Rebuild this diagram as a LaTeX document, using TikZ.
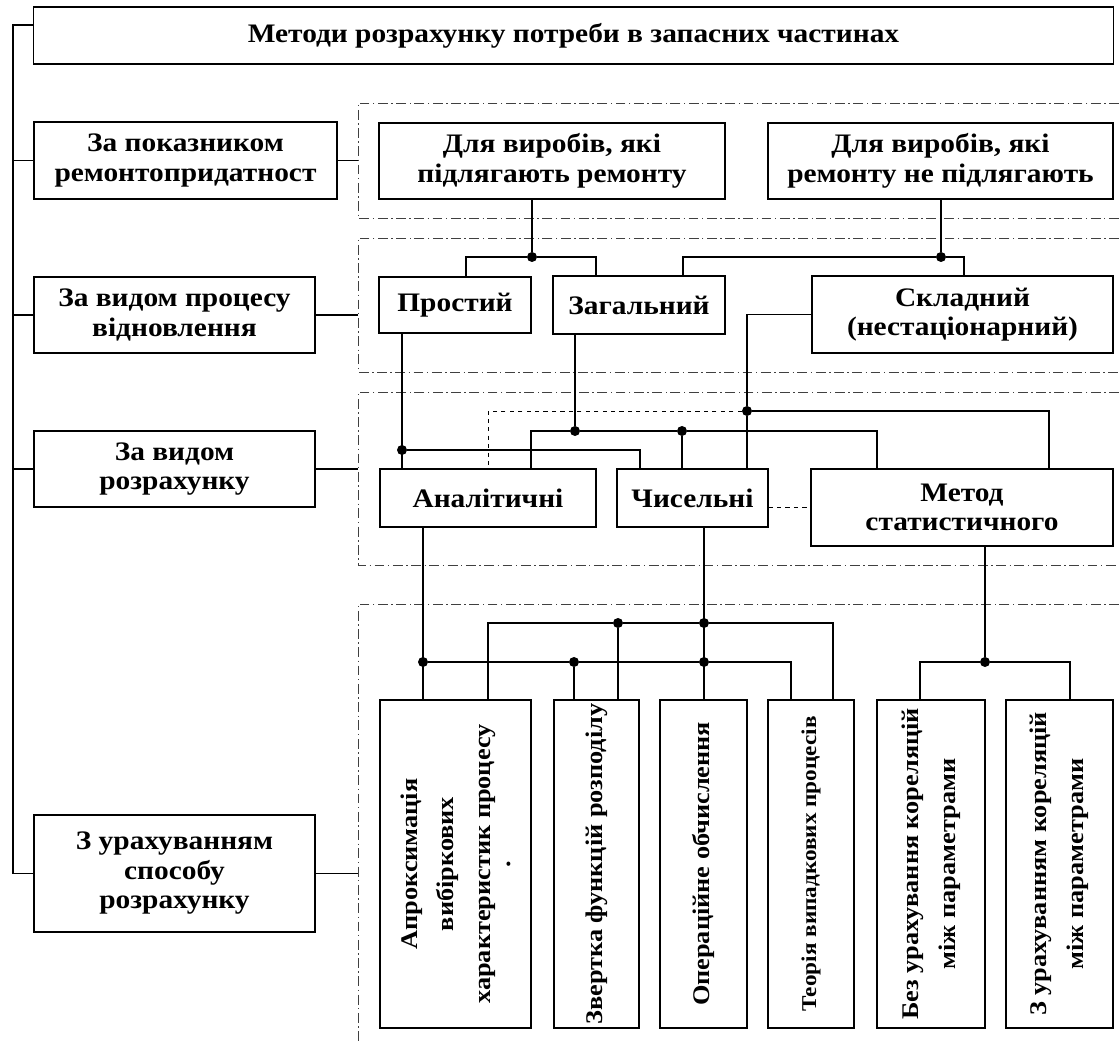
\documentclass[tikz,border=0pt]{standalone}
\usepackage{fontspec}
\setmainfont{Liberation Serif}[FakeStretch = 1.1]
\usetikzlibrary{shapes}
\tikzstyle{block} =
        [
                rectangle,
                draw,
                line width = 0.8pt,
                align = center,
                inner sep = 0pt,
                font = \bfseries\fontsize{19}{21}\selectfont
        ]
\tikzstyle{vblock} =
        [
                block,
                rotate = 90,
                minimum width = 8.2cm,
                font = \bfseries\fontsize{17}{26}\selectfont
        ]
\tikzstyle{line} =
        [
                draw,
                line width = 0.8pt
        ]
\tikzstyle{dashline} =
        [
                draw,
                dashed,
                line width = 0.6pt
        ]
\tikzstyle{frame} =
        [
                draw,
                black!75,
                line width = 0.7pt,
                dash pattern = on 7pt off 2.5pt on 1pt off 2.5pt
        ]
\tikzstyle{dot} =
        [
                circle,
                fill,
                inner sep = 0pt,
                minimum size = 0.25cm
        ]

\begin{document}
\begin{tikzpicture}[x = 0.025cm, y = -0.025cm]
        \useasboundingbox (0,0) rectangle (1119,1043);

        % frames
        \path [frame] (1119,103) -| (358,218) -- (1119,218);
        \path [frame] (1119,238) -| (358,372) -- (1119,372);
        \path [frame] (1119,392) -| (358,565) -- (1119,565);
        \path [frame] (1119,604) -| (358,1043);
        \coordinate (trunk) at (13,25);
        \coordinate (fl) at (358,0);

        \node [block, minimum width = 26.975cm, minimum height = 1.425cm] (title) at (573.5,35.5) {Методи розрахунку потреби в запасних частинах};
        \node [block, minimum width = 7.575cm, minimum height = 1.925cm] (crit1) at (185.5,160.5) {За показником\\ремонтопридатност};
        \node [block, minimum width = 7.025cm, minimum height = 1.9cm] (crit2) at (174.5,315) {За видом процесу\\відновлення};
        \node [block, minimum width = 7.025cm, minimum height = 1.9cm] (crit3) at (174.5,469) {За видом\\розрахунку};
        \node [block, minimum width = 7.025cm, minimum height = 2.925cm] (crit4) at (174.5,873.5) {З урахуванням\\способу\\розрахунку};

        \node [block, minimum width = 8.65cm, minimum height = 1.9cm] (rem) at (552,161) {Для виробів, які\\підлягають ремонту};
        \node [block, minimum width = 8.625cm, minimum height = 1.9cm] (norem) at (940.5,161) {Для виробів, які\\ремонту не підлягають};

        \node [block, minimum width = 3.8cm, minimum height = 1.4cm] (simple) at (455,305) {Простий};
        \node [block, minimum width = 4.3cm, minimum height = 1.45cm] (general) at (639,305) {Загальний};
        \node [block, minimum width = 7.525cm, minimum height = 1.925cm] (complex) at (962.5,314.5) {Складний\\(нестаціонарний)};

        \node [block, minimum width = 5.4cm, minimum height = 1.45cm] (analyt) at (488,498) {Аналітичні};
        \node [block, minimum width = 3.775cm, minimum height = 1.45cm] (numer) at (692.5,498) {Чисельні};
        \node [block, minimum width = 7.55cm, minimum height = 1.925cm] (stat) at (962,507.5) {Метод\\статистичного};

        \node [vblock, minimum height = 3.775cm] (approx) at (455.5,864) {Апроксимація\\вибіркових\\характеристик процесу\\[-12pt].};
        \node [vblock, minimum height = 2.125cm] (convol) at (596.5,864) {Звертка функцій розподілу};
        \node [vblock, minimum height = 2.175cm] (operat) at (703.5,864) {Операційне обчислення};
        \node [vblock, minimum height = 2.15cm, font = \bfseries\fontsize{15}{18}\selectfont] (theory) at (811,864) {Теорія випадкових процесів};
        \node [vblock, minimum height = 2.7cm] (nocorr) at (931,864) {Без урахування кореляцій\\між параметрами};
        \node [vblock, minimum height = 2.675cm] (withcorr) at (1059.5,864) {З урахуванням кореляцій\\між параметрами};

        \node [dot] (j1) at (532,257) {};
        \node [dot] (j2) at (941,257) {};
        \node [dot] (j3) at (402,450) {};
        \node [dot] (j4) at (575,431) {};
        \node [dot] (j5) at (682,431) {};
        \node [dot] (j6) at (747,411) {};
        \node [dot] (j7) at (618,623) {};
        \node [dot] (j8) at (704,623) {};
        \node [dot] (j9) at (423,662) {};
        \node [dot] (j10) at (574,662) {};
        \node [dot] (j11) at (704,662) {};
        \node [dot] (j12) at (985,662) {};

        \path [line] (title.west |- trunk) -- (trunk) -- (trunk |- crit4.west) -- (crit4.west);
        \path [line] (crit1.west) -- (crit1.west -| trunk);
        \path [line] (crit2.west) -- (crit2.west -| trunk);
        \path [line] (crit3.west) -- (crit3.west -| trunk);
        \path [line] (crit1.east) -- (crit1.east -| fl);
        \path [line] (crit2.east) -- (crit2.east -| fl);
        \path [line] (crit3.east) -- (crit3.east -| fl);
        \path [line] (crit4.east) -- (crit4.east -| fl);

        \path [line] (rem.south -| j1) -- (j1);
        \path [line] (simple.north -| 466,0) |- (j1) -| (general.north -| 596,0);
        \path [line] (norem.south -| j2) -- (j2);
        \path [line] (general.north -| 683,0) |- (j2) -| (complex.north -| 964,0);

        \path [line] (simple.south -| j3) -- (analyt.north -| j3);
        \path [line] (j3) -| (numer.north -| 640,0);
        \path [line] (general.south -| j4) -- (j4);
        \path [line] (analyt.north -| 531,0) |- (j4) -- (j5) -| (stat.north -| 877,0);
        \path [line] (j5) -- (numer.north -| j5);
        \path [line] (complex.west) -| (j6);
        \path [line] (j6) -- (numer.north -| j6);
        \path [line] (j6) -| (stat.north -| 1049,0);
        \path [dashline] (j6) -| (analyt.north -| 488,0);
        \path [dashline] (numer.east |- 0,507) -- (stat.west |- 0,507);

        \path [line] (analyt.south -| j9) -- (approx.east -| j9);
        \path [line] (j9) -- (j10) -- (j11) -| (theory.east -| 791,0);
        \path [line] (j10) -- (convol.east -| j10);
        \path [line] (numer.south -| j8) -- (operat.east -| j8);
        \path [line] (approx.east -| 488,0) |- (j7) -- (j8) -| (theory.east -| 833,0);
        \path [line] (j7) -- (convol.east -| j7);
        \path [line] (stat.south -| j12) -- (j12);
        \path [line] (nocorr.east -| 920,0) |- (j12) -| (withcorr.east -| 1070,0);
\end{tikzpicture}
\end{document}
